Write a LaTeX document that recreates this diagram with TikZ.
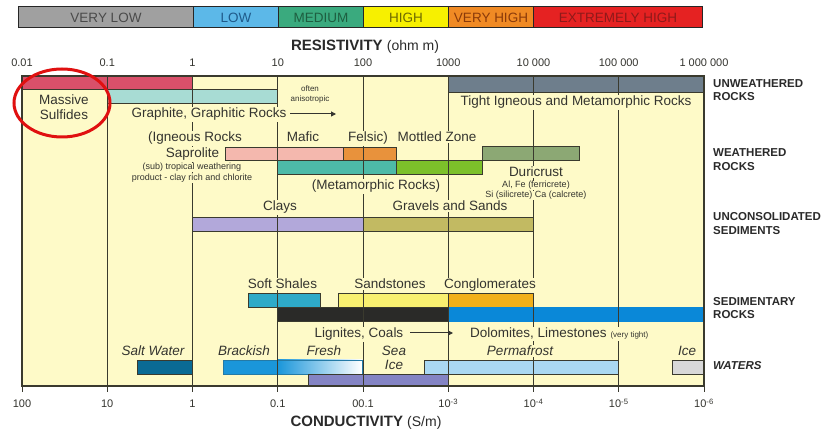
\documentclass[tikz,border=0pt]{standalone}
\usepackage{fontspec}
\setmainfont{Liberation Sans}
\usetikzlibrary{arrows.meta}

\definecolor{bgyel}{HTML}{FEFAC8}
\definecolor{txt}{HTML}{34342F}
\definecolor{cattxt}{HTML}{2A2A2A}
\definecolor{gridc}{HTML}{3A3A2E}
\definecolor{cVL}{HTML}{A0A0A0}\definecolor{tVL}{HTML}{4A4A4A}
\definecolor{cLOW}{HTML}{5CB8E8}\definecolor{tLOW}{HTML}{1F5A8A}
\definecolor{cMED}{HTML}{3AAA7E}\definecolor{tMED}{HTML}{1E5E40}
\definecolor{cHIGH}{HTML}{F7F000}\definecolor{tHIGH}{HTML}{6E6A00}
\definecolor{cVH}{HTML}{F08A24}\definecolor{tVH}{HTML}{8A3A0A}
\definecolor{cEH}{HTML}{E52222}\definecolor{tEH}{HTML}{8E1A1A}
\definecolor{sulf}{HTML}{D9506A}
\definecolor{unw}{HTML}{6E7E8C}
\definecolor{graph}{HTML}{A8DCD4}
\definecolor{sapro}{HTML}{F4B8AE}
\definecolor{felsic}{HTML}{E8923C}
\definecolor{metateal}{HTML}{4DBAA8}
\definecolor{mottled}{HTML}{7CC02A}
\definecolor{duri}{HTML}{8CA874}
\definecolor{clay}{HTML}{B2A8DA}
\definecolor{gravel}{HTML}{C2BA62}
\definecolor{shale}{HTML}{2EAAC8}
\definecolor{sand}{HTML}{F8F070}
\definecolor{congl}{HTML}{F2B01A}
\definecolor{blackbar}{HTML}{2A2A28}
\definecolor{bluebar}{HTML}{0A88D8}
\definecolor{salt}{HTML}{0A6A94}
\definecolor{brack}{HTML}{1A96DA}
\definecolor{seaice}{HTML}{8484C4}
\definecolor{perma}{HTML}{AAD8F2}
\definecolor{icec}{HTML}{D8D8D8}
\definecolor{ringred}{HTML}{E01010}

\newcommand\fsz[1]{\fontsize{#1}{#1}\selectfont}

\tikzset{
  lbl/.style={font=\fsz{13.5}, text=txt, fill=bgyel, inner sep=1pt, anchor=base},
  lblsmall/.style={font=\fsz{9}, text=txt, fill=bgyel, inner sep=0.5pt, anchor=base},
  lbltiny/.style={font=\fsz{8}, text=txt, fill=bgyel, inner sep=0.5pt, anchor=base},
  wat/.style={font=\fsz{13.5}\itshape, text=txt, fill=bgyel, inner sep=1pt, anchor=base},
  ticklbl/.style={font=\fsz{11}, text=txt, inner sep=0pt, anchor=base},
  cat/.style={font=\fsz{11.5}\bfseries, text=cattxt, anchor=base west, inner sep=0pt},
  bar/.style={draw=gridc, line width=0.6pt},
  legendbox/.style={draw=black!85, line width=1pt, minimum height=21pt, font=\fsz{13.5}, inner sep=0pt, anchor=west},
  gridline/.style={draw=gridc, line width=0.9pt},
  arr/.style={draw=txt, line width=1pt, -{Triangle[length=5pt,width=5pt]}},
  title/.style={font=\fsz{15}, text=cattxt, anchor=base, inner sep=0pt}
}

\begin{document}
\begin{tikzpicture}[x=1pt,y=-1pt]
\useasboundingbox (0,0) rectangle (823,435);
\fill[white] (0,0) rectangle (823,435);

% legend
\node[legendbox, fill=cVL, text=tVL, minimum width=175pt] (vl) at (18,17.5) {VERY LOW};
\node[legendbox, fill=cLOW, text=tLOW, minimum width=85pt] (lo) at (193,17.5) {LOW};
\node[legendbox, fill=cMED, text=tMED, minimum width=85pt] (me) at (278,17.5) {MEDIUM};
\node[legendbox, fill=cHIGH, text=tHIGH, minimum width=85pt] (hi) at (363,17.5) {HIGH};
\node[legendbox, fill=cVH, text=tVH, minimum width=85pt] (vh) at (448,17.5) {VERY HIGH};
\node[legendbox, fill=cEH, text=tEH, minimum width=169pt] (eh) at (533,17.5) {EXTREMELY HIGH};

% title resistivity
\node[title] (res) at (365,51) {\bfseries RESISTIVITY \mdseries\fsz{14}(ohm m)};

% top tick labels
\node[ticklbl] (t1) at (22,67) {0.01};
\node[ticklbl] (t2) at (107.25,67) {0.1};
\node[ticklbl] (t3) at (192.5,67) {1};
\node[ticklbl] (t4) at (277.75,67) {10};
\node[ticklbl] (t5) at (363,67) {100};
\node[ticklbl] (t6) at (448.25,67) {1000};
\node[ticklbl] (t7) at (533.5,67) {10 000};
\node[ticklbl] (t8) at (618.75,67) {100 000};
\node[ticklbl] (t9) at (704,67) {1 000 000};

% background
\fill[bgyel] (22,76) rectangle (704,386);

% bars: unweathered
\filldraw[bar, fill=sulf] (22,76) rectangle (192.5,89);
\filldraw[bar, fill=unw] (448.25,76) rectangle (704,92);
\filldraw[bar, fill=graph] (107.25,89) rectangle (277.75,103);
% weathered
\filldraw[bar, fill=sapro] (225,147) rectangle (343,160);
\filldraw[bar, fill=felsic] (343,147) rectangle (396,160);
\filldraw[bar, fill=metateal] (277.75,160) rectangle (396,174);
\filldraw[bar, fill=mottled] (396,160) rectangle (482,174);
\filldraw[bar, fill=duri] (482,146) rectangle (579,160);
% unconsolidated
\filldraw[bar, fill=clay] (192.5,217) rectangle (363,231);
\filldraw[bar, fill=gravel] (363,217) rectangle (533.5,231);
% sedimentary
\filldraw[bar, fill=shale] (248,293) rectangle (320,307);
\filldraw[bar, fill=sand] (338,293) rectangle (448.25,307);
\filldraw[bar, fill=congl] (448.25,293) rectangle (533.5,307);
\filldraw[bar, fill=blackbar] (277.75,307) rectangle (448.25,321);
\filldraw[bar, fill=bluebar, draw=bluebar] (448.25,307) rectangle (704,321);
% waters
\filldraw[bar, fill=salt] (137,360) rectangle (192.5,374);
\fill[brack] (223,360) rectangle (278,374);
\shade[left color=brack, right color=white] (277.5,360) rectangle (362,374);
\draw[draw=brack!70!gridc, line width=0.6pt] (223,360) rectangle (362,374);
\filldraw[bar, fill=seaice] (308,374) rectangle (448.25,386);
\filldraw[bar, fill=perma] (424,360) rectangle (618.75,374);
\filldraw[bar, fill=icec] (672,360) rectangle (704,374);

% grid lines with bottom ticks
\foreach \gx in {107.25,192.5,277.75,363,448.25,533.5,618.75}
  \draw[gridline] (\gx,76) -- (\gx,392);
\draw[gridline] (22,386) -- (22,392);
\draw[gridline] (704,386) -- (704,392);
% frame
\draw[draw=gridc, line width=1.5pt] (22,76) rectangle (704,386);

% labels unweathered
\node[lbl] (ms1) at (64,105) {Massive};
\node[lbl] (ms2) at (64,120) {Sulfides};
\node[lbltiny] (oft1) at (310,92) {often};
\node[lbltiny] (oft2) at (310,102) {anisotropic};
\node[lbl] (graphl) at (209,118) {Graphite, Graphitic Rocks};
\coordinate (gend) at (336,114);
\draw[arr] (graphl.east |- gend) ++(3,0) -- (gend);
\node[lbl] (tight) at (576,106) {Tight Igneous and Metamorphic Rocks};

% weathered
\node[lbl] (ign) at (195,142) {(Igneous Rocks};
\node[lbl, inner xsep=6pt] (mafic) at (303,142) {Mafic};
\node[lbl] (fels) at (368,142) {Felsic)};
\node[lbl] (mott) at (437,142) {Mottled Zone};
\node[lbl] (sap) at (192.5,158) {Saprolite};
\node[lblsmall] (sub1) at (192,170) {(sub) tropical weathering};
\node[lblsmall] (sub2) at (192,180.5) {product - clay rich and chlorite};
\node[lbl] (meta) at (376,190) {(Metamorphic Rocks)};
\node[lbl] (duric) at (536,177) {Duricrust};
\node[lblsmall] (dur1) at (536,188) {Al, Fe (ferricrete)};
\node[lblsmall] (dur2) at (536,198) {Si (silicrete) Ca (calcrete)};

% unconsolidated
\node[lbl] (clays) at (280,211) {Clays};
\node[lbl] (grav) at (450,211) {Gravels and Sands};

% sedimentary
\node[lbl] (shl) at (282.5,289) {Soft Shales};
\node[lbl] (sst) at (390,289) {Sandstones};
\node[lbl] (cgl) at (490,289) {Conglomerates};
\node[lbl] (lig) at (359,338) {Lignites, Coals};
\coordinate (lend) at (453,333);
\draw[arr] (lig.east |- lend) ++(6,0) -- (lend);
\node[lbl, anchor=base west] (dol) at (469,338) {Dolomites, Limestones {\fsz{8}(very tight)}};

% waters
\node[wat] (sw) at (153,356) {Salt Water};
\node[wat] (br) at (244,356) {Brackish};
\node[wat] (fr) at (324,356) {Fresh};
\node[wat] (sea) at (394,356) {Sea};
\node[wat] (seaice2) at (394,370) {Ice};
\node[wat] (pf) at (520,356) {Permafrost};
\node[wat] (icel) at (687,356) {Ice};

% ring
\draw[ringred, line width=3pt] (62,103) ellipse [x radius=48pt, y radius=34pt];

% categories
\node[cat] (c1a) at (713,88) {UNWEATHERED};
\node[cat] (c1b) at (713,101) {ROCKS};
\node[cat] (c2a) at (713,157) {WEATHERED};
\node[cat] (c2b) at (713,171) {ROCKS};
\node[cat] (c3a) at (713,221) {UNCONSOLIDATED};
\node[cat] (c3b) at (713,235) {SEDIMENTS};
\node[cat] (c4a) at (713,306) {SEDIMENTARY};
\node[cat] (c4b) at (713,319) {ROCKS};
\node[cat, font=\fsz{11.5}\bfseries\itshape] (c5) at (713,370) {WATERS};

% bottom tick labels
\node[ticklbl] (b1) at (22,408) {100};
\node[ticklbl] (b2) at (107.25,408) {10};
\node[ticklbl] (b3) at (192.5,408) {1};
\node[ticklbl] (b4) at (277.75,408) {0.1};
\node[ticklbl] (b5) at (363,408) {00.1};
\node[ticklbl] (b6) at (448.25,408) {10\textsuperscript{-3}};
\node[ticklbl] (b7) at (533.5,408) {10\textsuperscript{-4}};
\node[ticklbl] (b8) at (618.75,408) {10\textsuperscript{-5}};
\node[ticklbl] (b9) at (704,408) {10\textsuperscript{-6}};

\node[title] (cond) at (366,427) {\bfseries CONDUCTIVITY \mdseries\fsz{14}(S/m)};
\end{tikzpicture}
\end{document}
